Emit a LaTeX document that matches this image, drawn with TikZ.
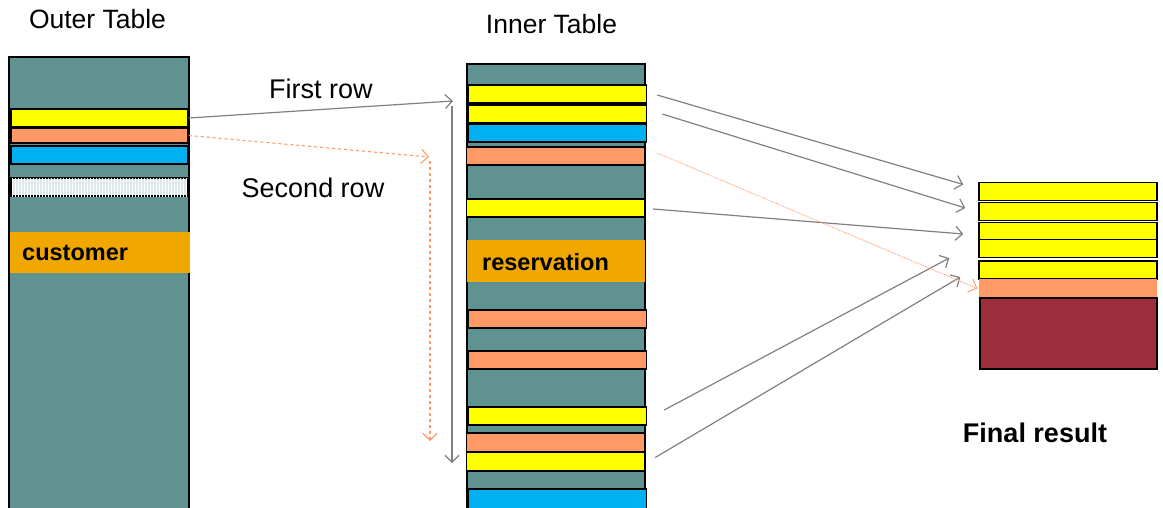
\documentclass[tikz,border=0pt]{standalone}
\usepackage{fontspec}
\setmainfont{Liberation Sans}
\usepackage{xcolor}
\usetikzlibrary{arrows.meta,patterns}

\definecolor{tblteal}{RGB}{97,146,146}
\definecolor{rowyellow}{RGB}{255,255,0}
\definecolor{rowsalmon}{RGB}{255,153,102}
\definecolor{rowblue}{RGB}{0,176,240}
\definecolor{keyamber}{RGB}{240,168,0}
\definecolor{resred}{RGB}{155,46,58}
\definecolor{stripe}{RGB}{222,232,232}
\definecolor{arrowgray}{RGB}{128,128,128}

\begin{document}
\begin{tikzpicture}[
    x=1pt, y=-1pt,
    tbl/.style={draw=black, line width=1.3pt, fill=tblteal, minimum width=180pt,
                inner sep=0pt},
    row/.style={draw=black, line width=1.4pt, minimum width=178pt, minimum height=18pt,
                inner sep=0pt},
    yrow/.style={row, fill=rowyellow},
    srow/.style={row, fill=rowsalmon},
    brow/.style={row, fill=rowblue},
    keyrow/.style={fill=keyamber, minimum width=180pt, minimum height=42pt, inner sep=0pt},
    keytext/.style={anchor=west, inner sep=0pt, font=\fontsize{23.5}{26}\selectfont\bfseries},
    title/.style={font=\fontsize{26.5}{30}\selectfont},
    arrow/.style={draw=arrowgray, line width=1.2pt, -{Straight Barb[length=7pt,width=14pt]}},
    farrow/.style={draw=rowsalmon, line width=1.1pt, dashed,
                   -{Straight Barb[length=7pt,width=14pt]}},
    darrow/.style={draw=rowsalmon, line width=0.9pt, densely dotted,
                   -{Straight Barb[length=7pt,width=14pt]}}
]
\useasboundingbox (0,0) rectangle (1163,507);

% outer table
\node[title] (outertitle) at (97.5,19) {Outer Table};
\node[tbl, minimum height=456pt] (outer) at (99,285) {};
\node[yrow, minimum width=177pt] (o1) at (99.5,118) {};
\node[srow, minimum width=177pt, minimum height=15pt] (o2) at (99.5,135.5) {};
\node[brow, minimum width=177pt] (o3) at (99.5,155) {};
\node[row, minimum width=177pt, fill=stripe,
      postaction={pattern=vertical lines, pattern color=white}] (o4) at (99.5,187) {};
\node[keyrow, minimum height=41pt] (customer) at (99.5,252.5) {};
\node[keytext] (custtext) at (22,253) {customer};

% inner table
\node[title] (innertitle) at (551.5,24) {Inner Table};
\node[tbl, minimum width=178pt, minimum height=452pt] (inner) at (556,290) {};
\node[yrow] (i1) at (557.5,94) {};
\node[yrow] (i2) at (557.5,114) {};
\node[brow] (i3) at (557.5,133) {};
\node[srow] (i4) at (555.5,156) {};
\node[yrow] (i5) at (555.5,208) {};
\node[keyrow, minimum width=178pt] (reservation) at (556,261) {};
\node[keytext] (restext) at (482,262) {reservation};
\node[srow] (i6) at (557.5,319) {};
\node[srow] (i7) at (557.5,360) {};
\node[yrow] (i8) at (557.5,416) {};
\node[srow, minimum height=19pt] (i9) at (555.5,442.5) {};
\node[yrow, minimum height=19pt] (i10) at (555.5,461.5) {};
\node[brow, minimum height=22pt] (i11) at (557.5,500) {};

% final result
\node[yrow] (r1) at (1068,191.5) {};
\node[yrow] (r2) at (1068,211.5) {};
\node[yrow, minimum height=17pt] (r3) at (1068,231) {};
\node[yrow] (r4) at (1068,248.5) {};
\node[yrow] (r5) at (1068,270) {};
\node[srow, draw=none, minimum height=19pt] (r6) at (1068,288.5) {};
\node[row, fill=resred, minimum width=177pt, minimum height=71pt] (r7) at (1068.5,333.5) {};
\node[font=\fontsize{27}{30}\selectfont\bfseries] (finaltext) at (1035,433) {Final result};

% nested loop scan
\coordinate (firsthead) at (453,101);
\coordinate (firsttop) at (452,106);
\coordinate (firstend) at (452,463);
\coordinate (secondhead) at (429,157);
\coordinate (secondtop) at (430,161);
\coordinate (secondend) at (430,441);
\draw[arrow] (o1.east) -- node[above=7pt, black, pos=0.5, font=\fontsize{27}{30}\selectfont] (firstlbl) {First row} (firsthead);
\draw[arrow] (firsttop) -- (firstend);
\draw[farrow] (o2.east) -- (secondhead);
\draw[farrow] (secondtop) -- (secondend);
\node[font=\fontsize{27}{30}\selectfont] (secondlbl) at (313,188) {Second row};

% matches
\draw[arrow] ([xshift=10pt,yshift=-1pt]i1.east) -- ([xshift=-15pt,yshift=7pt]r1.west);
\draw[arrow] ([xshift=15pt]i2.east) -- ([xshift=-13pt,yshift=3.5pt]r2.west);
\draw[arrow] ([xshift=8pt,yshift=-1pt]i5.east) -- ([xshift=-15pt,yshift=-3pt]r3.west);
\draw[arrow] ([xshift=17pt,yshift=6pt]i8.east) -- ([xshift=-29pt,yshift=-9.5pt]r4.west);
\draw[arrow] ([xshift=10pt,yshift=4pt]i10.east) -- ([xshift=-18pt,yshift=-7pt]r5.west);
\draw[darrow] ([xshift=12pt,yshift=3pt]i4.east) -- ([xshift=-1pt]r6.west);
\end{tikzpicture}
\end{document}
